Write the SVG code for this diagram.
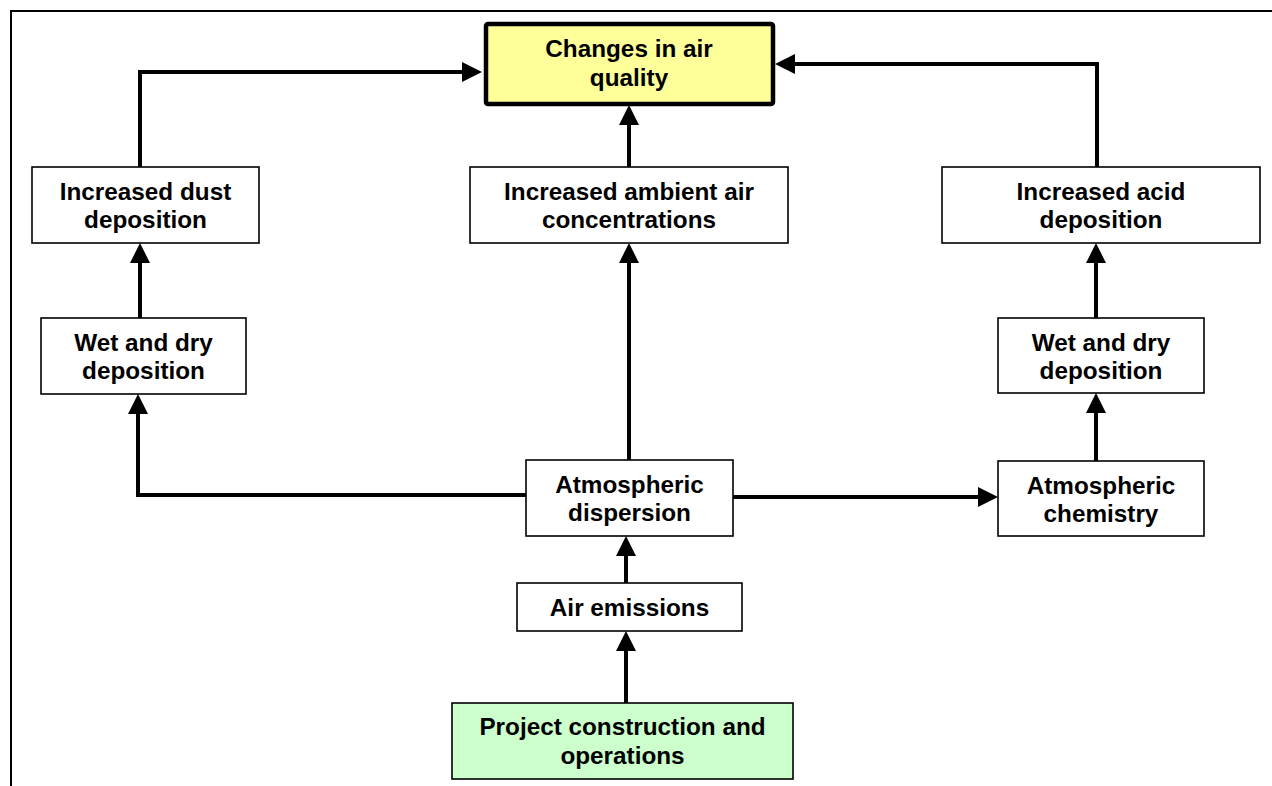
<svg xmlns="http://www.w3.org/2000/svg" width="1272" height="786" viewBox="0 0 1272 786">
<style>
.box{fill:#fff;stroke:#000;stroke-width:1.6}
.t{font-family:"Liberation Sans",Arial,sans-serif;font-weight:bold;font-size:24.3px;fill:#000;text-anchor:middle}
.c{fill:none;stroke:#000;stroke-width:4;stroke-linejoin:miter}
</style>
<defs>
<marker id="ah" markerUnits="userSpaceOnUse" markerWidth="20" markerHeight="20" viewBox="0 0 20 20" refX="0" refY="10" orient="auto" overflow="visible">
<path d="M0,0 L20,10 L0,20 z" fill="#000"/>
</marker>
</defs>
<rect width="1272" height="786" fill="#fff"/>
<path d="M11,786 V11 H1272" fill="none" stroke="#000" stroke-width="2"/>

<g id="connectors">
<path class="c" d="M140,167 V72 H462" marker-end="url(#ah)"/>
<path class="c" d="M1097,167 V64 H795" stroke-width="3.5" marker-end="url(#ah)"/>
<path class="c" d="M629,167 V125" marker-end="url(#ah)"/>
<path class="c" d="M629,460 V263" marker-end="url(#ah)"/>
<path class="c" d="M140,318 V263" marker-end="url(#ah)"/>
<path class="c" d="M526,495 H138 V414" marker-end="url(#ah)"/>
<path class="c" d="M733,497 H978" marker-end="url(#ah)"/>
<path class="c" d="M1096,461 V413" marker-end="url(#ah)"/>
<path class="c" d="M1096,318 V263" marker-end="url(#ah)"/>
<path class="c" d="M626,583 V556" marker-end="url(#ah)"/>
<path class="c" d="M626,703 V651" marker-end="url(#ah)"/>
</g>

<g id="changes-air-quality">
<rect x="486" y="24" width="287" height="80" rx="2" fill="#FFFF99" stroke="#000" stroke-width="4.5"/>
<text class="t" x="629" y="57">Changes in air</text>
<text class="t" x="629" y="86">quality</text>
</g>
<g id="increased-dust">
<rect class="box" x="32" y="167" width="227" height="76"/>
<text class="t" x="145.5" y="200">Increased dust</text>
<text class="t" x="145.5" y="228">deposition</text>
</g>
<g id="increased-ambient">
<rect class="box" x="470" y="167" width="318" height="76"/>
<text class="t" x="629" y="200">Increased ambient air</text>
<text class="t" x="629" y="228">concentrations</text>
</g>
<g id="increased-acid">
<rect class="box" x="942" y="167" width="318" height="76"/>
<text class="t" x="1101" y="200">Increased acid</text>
<text class="t" x="1101" y="228">deposition</text>
</g>
<g id="wet-dry-left">
<rect class="box" x="41" y="318" width="205" height="76"/>
<text class="t" x="143.5" y="351">Wet and dry</text>
<text class="t" x="143.5" y="379">deposition</text>
</g>
<g id="wet-dry-right">
<rect class="box" x="998" y="318" width="206" height="75"/>
<text class="t" x="1101" y="351">Wet and dry</text>
<text class="t" x="1101" y="379">deposition</text>
</g>
<g id="atmospheric-dispersion">
<rect class="box" x="526" y="460" width="207" height="76"/>
<text class="t" x="629.5" y="493">Atmospheric</text>
<text class="t" x="629.5" y="521">dispersion</text>
</g>
<g id="atmospheric-chemistry">
<rect class="box" x="998" y="461" width="206" height="75"/>
<text class="t" x="1101" y="494">Atmospheric</text>
<text class="t" x="1101" y="522">chemistry</text>
</g>
<g id="air-emissions">
<rect class="box" x="517" y="583" width="225" height="48"/>
<text class="t" x="629.5" y="616">Air emissions</text>
</g>
<g id="project">
<rect x="452" y="703" width="341" height="76" fill="#CCFFCC" stroke="#000" stroke-width="1.6"/>
<text class="t" x="622.5" y="735">Project construction and</text>
<text class="t" x="622.5" y="764">operations</text>
</g>
</svg>
